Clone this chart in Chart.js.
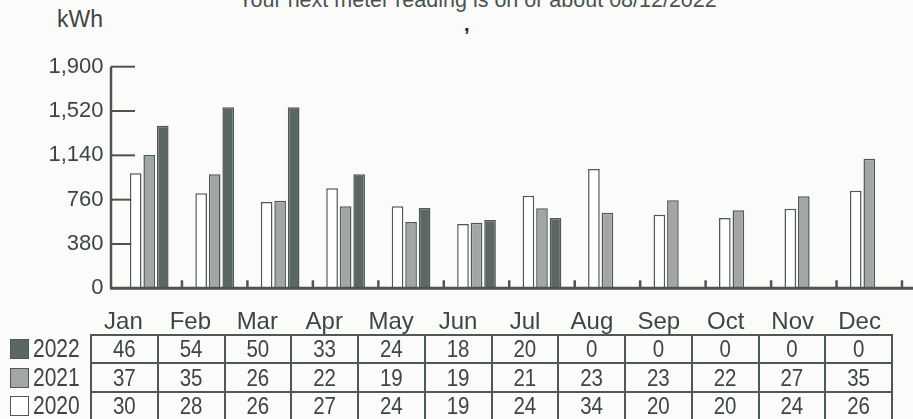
<!DOCTYPE html>
<html>
<head>
<meta charset="utf-8">
<script src="https://cdn.jsdelivr.net/npm/chart.js@4/dist/chart.umd.min.js"></script>
<style>
  html, body { margin: 0; padding: 0; }
  body { width: 913px; height: 419px; overflow: hidden; background: #fbfbfa; position: relative; font-family: "Liberation Sans", Arial, sans-serif; color: #3d4644; }
  #chart { position: absolute; left: 0; top: 0; }
  #title { position: absolute; left: 0; width: 955px; top: -11px; text-align: center; font-size: 21.5px; line-height: 22px; color: #4a5250; }
  #mark { position: absolute; left: 464px; top: 13px; font-size: 20px; font-weight: bold; color: #222; }
  #unit { position: absolute; left: 57px; top: 6px; font-size: 23px; }
  #months { position: absolute; left: 90px; top: 306px; width: 803px; display: flex; }
  #months div { flex: 1; text-align: center; font-size: 24px; line-height: 30px; }
  #table { position: absolute; left: 90px; top: 334px; width: 803px; border-collapse: collapse; table-layout: fixed; }
  #table td { border: 2px solid #4e5856; height: 26.4px; padding: 0; text-align: center; font-size: 20.5px; line-height: 24px; }
  #table td span, #legend .row span { display: inline-block; transform: scaleY(1.2); }
  #legend { position: absolute; left: 10px; top: 335px; }
  #legend .row { height: 28.4px; display: flex; align-items: center; font-size: 21px; }
  #legend .sw { width: 17px; height: 18px; border: 1.5px solid #4e5856; margin-right: 4px; }
</style>
</head>
<body>
<div id="title">Your next meter reading is on or about 08/12/2022</div>
<div id="mark">,</div>
<div id="unit">kWh</div>
<canvas id="chart" width="913" height="419"></canvas>
<div id="months"></div>
<div id="legend"></div>
<table id="table"></table>
<script>
const months = ["Jan", "Feb", "Mar", "Apr", "May", "Jun", "Jul", "Aug", "Sep", "Oct", "Nov", "Dec"];
const years = ["2020", "2021", "2022"];

// monthly kWh (bars)
const kwh2020 = [986, 815, 740, 857, 703, 551, 794, 1023, 631, 603, 683, 837];
const kwh2021 = [1143, 977, 751, 703, 568, 563, 686, 648, 754, 669, 789, 1111];
const kwh2022 = [1394, 1552, 1552, 977, 688, 585, 603, 0, 0, 0, 0, 0];

// daily average row values (table)
const avg2020 = [30, 28, 26, 27, 24, 19, 24, 34, 20, 20, 24, 26];
const avg2021 = [37, 35, 26, 22, 19, 19, 21, 23, 23, 22, 27, 35];
const avg2022 = [46, 54, 50, 33, 24, 18, 20, 0, 0, 0, 0, 0];

const yTicks = [0, 380, 760, 1140, 1520, 1900];

const fills = ["#ffffff", "#a2a7a5", "#5c6663"];
const edge = "#4e5856";
const axisColor = "#4a5452";

const monthsEl = document.getElementById("months");
monthsEl.innerHTML = months.map((m) => `<div>${m}</div>`).join("");

const rows = [
  { year: "2022", vals: avg2022, fill: fills[2] },
  { year: "2021", vals: avg2021, fill: fills[1] },
  { year: "2020", vals: avg2020, fill: fills[0] }
];
document.getElementById("table").innerHTML = rows
  .map((r) => `<tr>${r.vals.map((v) => `<td><span>${v}</span></td>`).join("")}</tr>`)
  .join("");
document.getElementById("legend").innerHTML = rows
  .map((r) => `<div class="row"><div class="sw" style="background:${r.fill}"></div><span>${r.year}</span></div>`)
  .join("");

const axesPlugin = {
  id: "billAxes",
  beforeDatasetsDraw(chart) {
    const ctx = chart.ctx;
    const y = chart.scales.y;
    const left = chart.chartArea.left - 5.5;
    ctx.save();
    ctx.strokeStyle = axisColor;
    ctx.lineWidth = 2.5;
    ctx.beginPath();
    ctx.moveTo(left, y.getPixelForValue(yTicks[yTicks.length - 1]));
    ctx.lineTo(left, y.getPixelForValue(0));
    ctx.stroke();
    ctx.lineWidth = 2;
    yTicks.forEach((t) => {
      if (t === 0) return;
      const py = y.getPixelForValue(t);
      ctx.beginPath();
      ctx.moveTo(left, py);
      ctx.lineTo(left + 24, py);
      ctx.stroke();
    });
    ctx.restore();
  },
  afterDatasetsDraw(chart) {
    const ctx = chart.ctx;
    const x = chart.scales.x;
    const py = chart.scales.y.getPixelForValue(0);
    ctx.save();
    ctx.strokeStyle = axisColor;
    ctx.lineWidth = 3;
    ctx.beginPath();
    ctx.moveTo(chart.chartArea.left - 6.5, py);
    ctx.lineTo(chart.width, py);
    ctx.stroke();
    const step = x.getPixelForValue(1) - x.getPixelForValue(0);
    ctx.lineWidth = 2.5;
    for (let i = 0; i < months.length; i++) {
      const px = x.getPixelForValue(i) + step / 2;
      ctx.beginPath();
      ctx.moveTo(px, py);
      ctx.lineTo(px, py - 8);
      ctx.stroke();
    }
    ctx.restore();
  }
};

new Chart(document.getElementById("chart"), {
  type: "bar",
  data: {
    labels: months,
    datasets: [
      { label: years[0], data: kwh2020, backgroundColor: fills[0], borderColor: edge, borderWidth: 1.5 },
      { label: years[1], data: kwh2021, backgroundColor: fills[1], borderColor: edge, borderWidth: 1.5 },
      { label: years[2], data: kwh2022, backgroundColor: fills[2], borderColor: edge, borderWidth: 1.5 }
    ]
  },
  options: {
    responsive: false,
    animation: false,
    events: [],
    categoryPercentage: 0.62,
    barPercentage: 0.86,
    layout: { padding: { top: 66.7, right: 11, left: 0, bottom: 0 } },
    plugins: {
      legend: { display: false },
      tooltip: { enabled: false }
    },
    scales: {
      x: {
        grid: { display: false },
        border: { display: false },
        ticks: { display: false },
        afterFit: (scale) => { scale.height = 130.7; }
      },
      y: {
        min: 0,
        max: 1900,
        afterBuildTicks: (scale) => { scale.ticks = yTicks.map((v) => ({ value: v })); },
        grid: { display: false, drawTicks: false },
        border: { display: false },
        ticks: {
          color: "#3d4644",
          padding: 13,
          font: { family: "Liberation Sans", size: 22 },
          callback: (value) => value.toLocaleString("en-US")
        },
        afterFit: (scale) => { scale.width = 116.5; }
      }
    }
  },
  plugins: [axesPlugin]
});
</script>
</body>
</html>
